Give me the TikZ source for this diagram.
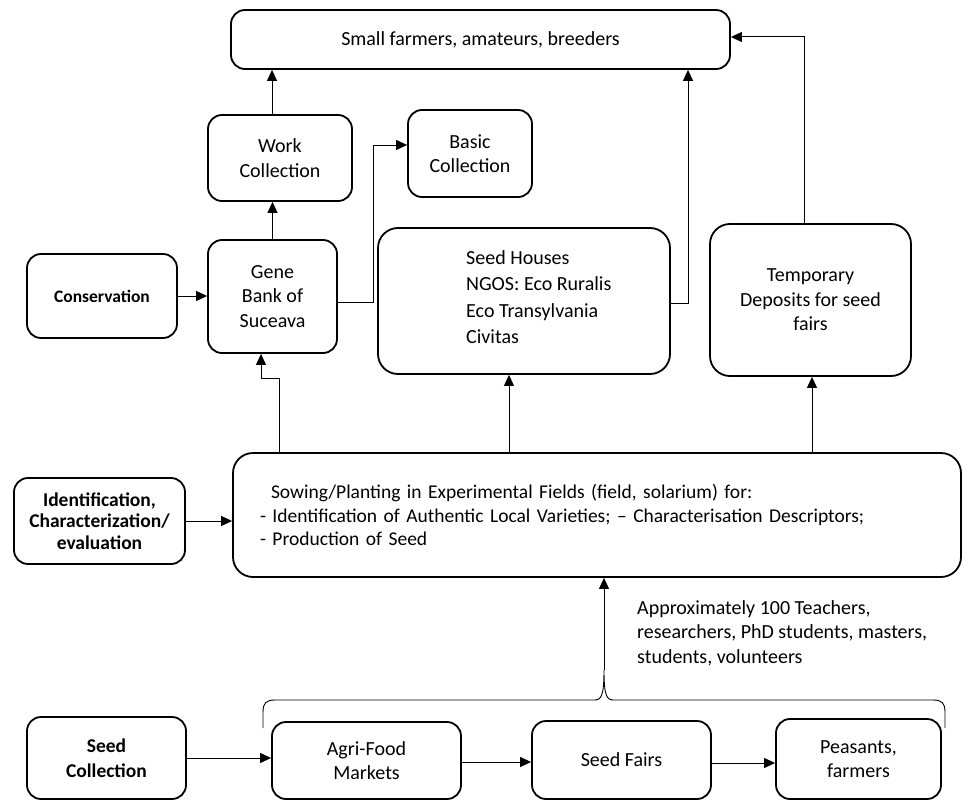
\documentclass[tikz,border=0pt]{standalone}
\usepackage{fontspec}
\setmainfont{Carlito}
\usetikzlibrary{arrows.meta}
\begin{document}
\begin{tikzpicture}[x=1pt,y=-1pt,
  box/.style={draw, line width=1.8pt, rounded corners=14pt, align=center, inner sep=0pt,
    font=\fontsize{20}{24.5}\selectfont},
  bigbox/.style={box, rounded corners=20pt},
  bbox/.style={box, font=\fontsize{17.5}{21.5}\selectfont\bfseries},
  txt/.style={inner sep=0pt, align=left, font=\fontsize{20}{24.5}\selectfont},
  conn/.style={line width=1pt, -{Triangle[length=11pt,width=10pt]}},
  bracestyle/.style={line width=0.9pt},
]
\path[use as bounding box] (0,0) rectangle (969,800);

% nodes
\node[box, minimum width=499pt, minimum height=59pt] (top) at (480.5,39.5) {Small farmers, amateurs, breeders};
\node[box, minimum width=144pt, minimum height=86pt] (work) at (280,158) {Work\\Collection};
\node[box, minimum width=124pt, minimum height=87pt] (basic) at (470,153.5) {Basic\\Collection};
\node[box, minimum width=129pt, minimum height=113pt] (gene) at (272.5,296.5) {Gene\\Bank of\\Suceava};
\node[bbox, minimum width=150pt, minimum height=84pt] (cons) at (102,296) {Conservation};
\node[bigbox, minimum width=292pt, minimum height=146pt] (seedh) at (524,301) {};
\node[txt, anchor=west, font=\fontsize{20}{26.3}\selectfont] (seedhtxt) at (466,297) {Seed Houses\\NGOS: Eco Ruralis\\Eco Transylvania\\Civitas};
\node[bigbox, minimum width=201pt, minimum height=152pt] (temp) at (810.5,300) {Temporary\\Deposits for seed\\fairs};
\node[bigbox, minimum width=728pt, minimum height=124pt, text width=674pt, inner xsep=27pt, align=left,
  font=\fontsize{19.5}{23.5}\selectfont] (big) at (597,515)
  {\hspace{11pt}Sowing/Planting in Experimental Fields (field, solarium) for:\\- Identification of Authentic Local Varieties; – Characterisation Descriptors;\\- Production of Seed};
\node[bbox, minimum width=171pt, minimum height=86pt, font=\fontsize{19.5}{21.5}\selectfont\bfseries] (ident) at (99.5,521) {Identification,\\Characterization/\\evaluation};
\node[box, minimum width=159pt, minimum height=82pt, font=\fontsize{19.5}{25}\selectfont\bfseries] (seedc) at (106.5,758) {Seed\\Collection};
\node[box, minimum width=189pt, minimum height=77pt] (agri) at (366.5,760.5) {Agri-Food\\Markets};
\node[box, minimum width=179pt, minimum height=78pt] (fairs) at (621.5,760) {Seed Fairs};
\node[box, minimum width=165pt, minimum height=80pt] (peas) at (858.5,759) {Peasants,\\farmers};
\node[txt, anchor=west] (crowd) at (637,633) {Approximately 100 Teachers,\\researchers, PhD students, masters,\\students, volunteers};

% brace
\coordinate (tip) at (604,670);
\draw[bracestyle] (263,728) -- (263,712) .. controls (263,703) and (266,700) .. (275,700) -- (594,700)
  .. controls (601,700) and (604,697) .. (tip)
  .. controls (604,697) and (607,700) .. (614,700) -- (933,700)
  .. controls (942,700) and (945,703) .. (945,712) -- (945,728);

% connectors
\draw[conn] ([xshift=-8pt]work.north) -- ([xshift=-8pt]work.north |- top.south);
\draw[conn] (gene.north) -- (gene.north |- work.south);
\draw[conn] (cons.east) -- (cons.east -| gene.west);
\draw[conn] ([yshift=-5.5pt]gene.east) -- ++(36,0) |- ([yshift=8.5pt]basic.west);
\draw[conn] ([yshift=-2pt]seedh.east) -| ([xshift=207.5pt]top.south);
\draw[conn] ([xshift=-6.5pt]temp.north) |- ([yshift=2.5pt]top.east);
\draw[conn] ([xshift=-299pt]big.north) -- ++(-19,0) -- ++(0,-74) -| ([xshift=-11.5pt]gene.south);
\draw[conn] ([xshift=-88pt]big.north) -- ([xshift=-88pt]big.north |- seedh.south);
\draw[conn] ([xshift=215pt]big.north) -- ([xshift=215pt]big.north |- temp.south);
\draw[conn] (ident.east) -- (ident.east -| big.west);
\draw[conn] (tip) -- (tip |- big.south);
\draw[conn] (seedc.east) -- (seedc.east -| agri.west);
\draw[conn] ([yshift=-1.5pt]agri.east) -- ([yshift=-1.5pt]agri.east -| fairs.west);
\draw[conn] ([yshift=-3pt]fairs.east) -- ([yshift=-3pt]fairs.east -| peas.west);
\end{tikzpicture}
\end{document}
